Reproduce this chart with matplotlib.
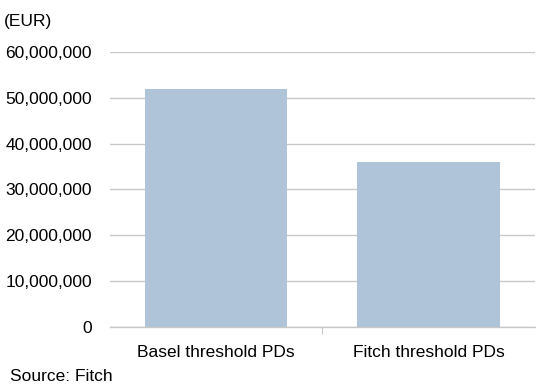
import matplotlib
matplotlib.use("Agg")
import matplotlib.pyplot as plt
from matplotlib.ticker import FuncFormatter, MultipleLocator

categories = ["Basel threshold PDs", "Fitch threshold PDs"]
values = [52_000_000, 36_000_000]

plt.rcParams["font.family"] = ["Liberation Sans", "DejaVu Sans"]

fig = plt.figure(figsize=(5.36, 3.85), dpi=100)
ax = fig.add_axes([0.205, 0.151, 0.793, 0.714])

x = range(len(categories))
ax.bar(x, values, width=0.67, color="#b0c4d9", zorder=2)

ax.set_xlim(-0.5, len(categories) - 0.5)
ax.set_ylim(0, 60_000_000)
ax.yaxis.set_major_locator(MultipleLocator(10_000_000))
ax.yaxis.set_major_formatter(FuncFormatter(lambda v, p: f"{v:,.0f}"))
ax.grid(axis="y", color="#c8c8c8", linewidth=1.0, zorder=0)
ax.set_axisbelow(True)

for s in ["top", "right", "left"]:
    ax.spines[s].set_visible(False)
ax.spines["bottom"].set_color("#c8c8c8")
ax.spines["bottom"].set_linewidth(1.0)

ax.set_xticks([0.5], minor=False)
ax.set_xticklabels([""])
ax.tick_params(axis="x", which="major", length=5, color="#c8c8c8")
ax.set_xticks(list(x), minor=True)
ax.set_xticklabels(categories, minor=True, fontsize=12.5)
ax.tick_params(axis="x", which="minor", length=0, pad=13)
ax.tick_params(axis="y", length=0, pad=13, labelsize=12.5)

fig.text(0.008, 0.945, "(EUR)", fontsize=12.5, ha="left", va="center")
fig.text(0.018, 0.022, "Source: Fitch", fontsize=12.5, ha="left", va="center")

fig.savefig("out.png", dpi=100)
